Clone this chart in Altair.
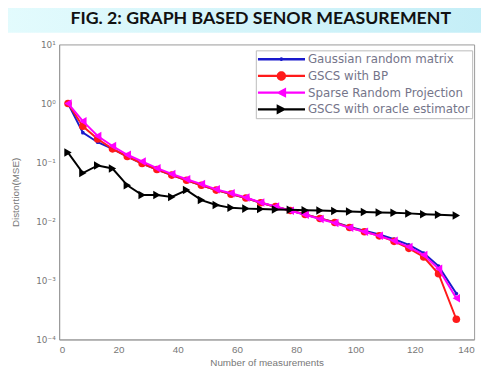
import altair as alt
import pandas as pd

# ---- data ----
series = ["Gaussian random matrix", "GSCS with BP", "Sparse Random Projection", "GSCS with oracle estimator"]
colors = ["#1a1acc", "#ff1a1a", "#ff00ff", "#000000"]
x_vals = [3, 8, 13, 18, 23, 28, 33, 38, 43, 48, 53, 58, 63, 68, 73, 78, 83, 88, 93, 98, 103, 108, 113, 118, 123, 128, 134]
gauss = [1.0, 0.32, 0.22, 0.17, 0.126, 0.096, 0.076, 0.061, 0.050, 0.041, 0.034, 0.029, 0.025, 0.0207, 0.0178,
         0.0153, 0.0131, 0.0112, 0.0097, 0.0081, 0.0070, 0.0060, 0.0050, 0.0040, 0.0029, 0.00175, 0.00060]
bp = [1.0, 0.41, 0.25, 0.17, 0.126, 0.096, 0.076, 0.061, 0.050, 0.041, 0.034, 0.029, 0.025, 0.0207, 0.0178,
      0.0153, 0.0131, 0.0112, 0.0096, 0.0079, 0.0067, 0.0057, 0.0046, 0.0035, 0.0025, 0.00130, 0.00022]
sparse = [1.0, 0.50, 0.28, 0.19, 0.135, 0.104, 0.080, 0.064, 0.052, 0.043, 0.035, 0.030, 0.0255, 0.021, 0.018,
          0.0152, 0.013, 0.0110, 0.0094, 0.0078, 0.0067, 0.0057, 0.0047, 0.0037, 0.0027, 0.00158, 0.00050]
oracle = [0.147, 0.066, 0.089, 0.079, 0.041, 0.028, 0.028, 0.026, 0.034, 0.023, 0.019, 0.017, 0.0165, 0.0162,
          0.016, 0.0158, 0.0155, 0.0153, 0.015, 0.0148, 0.0145, 0.0142, 0.014, 0.0137, 0.0133, 0.013, 0.0126]
x_ticks = [0, 20, 40, 60, 80, 100, 120, 140]
y_ticks = [1e-4, 1e-3, 1e-2, 1e-1, 1, 10]
title_text = "FIG. 2: GRAPH BASED SENOR MEASUREMENT"

values = [gauss, bp, sparse, oracle]
rows = []
for s, vals in zip(series, values):
    for xv, yv in zip(x_vals, vals):
        rows.append({"series": s, "x": xv, "y": yv})
df = pd.DataFrame(rows)

cscale = alt.Scale(domain=series, range=colors)
xenc = alt.X("x:Q", scale=alt.Scale(domain=[0, 140], nice=False),
             axis=alt.Axis(values=x_ticks, title="Number of measurements", grid=False, ticks=False,
                           labelFont="Liberation Sans", labelFontSize=10, labelColor="#777",
                           labelPadding=5, titleFont="Liberation Sans", titleFontSize=10,
                           titleColor="#777", titleFontWeight="normal", titlePadding=3,
                           domainColor="#999"))
yenc = alt.Y("y:Q", scale=alt.Scale(type="log", domain=[1e-4, 10], nice=False),
             axis=alt.Axis(values=y_ticks, title="Distortion(MSE)", grid=False, ticks=False,
                           labelExpr=("datum.value >= 9 ? '10¹' : datum.value >= 0.9 ? '10⁰' : "
                                      "datum.value >= 0.09 ? '10⁻¹' : datum.value >= 0.009 ? '10⁻²' : "
                                      "datum.value >= 0.0009 ? '10⁻³' : '10⁻⁴'"),
                           labelFont="DejaVu Sans", labelFontSize=9, labelColor="#777", labelPadding=4,
                           titleFont="Liberation Sans", titleFontSize=10, titleColor="#777",
                           titleFontWeight="normal", titleX=-44, titleY=150, titleAlign="center",
                           titleBaseline="middle", domainColor="#999"))

band = alt.Chart(pd.DataFrame({"a": [0]})).mark_rect(
    color=alt.LinearGradient(gradient="linear", x1=0, x2=1, y1=0, y2=0,
                             stops=[alt.GradientStop(color="#e3fbfd", offset=0),
                                    alt.GradientStop(color="#c4eef7", offset=1)])
).encode(x=alt.value(-60), x2=alt.value(440), y=alt.value(-42), y2=alt.value(-12))

rect = "M-1,-0.05H1V0.05H-1Z"
def circ(r):
    return f"M{-r},0A{r},{r} 0 1,1 {r},0A{r},{r} 0 1,1 {-r},0Z"
paths = [rect + circ(0.08), rect + circ(0.2),
         rect + "M-0.22,0L0.2,-0.22L0.2,0.22Z", rect + "M0.22,0L-0.2,0.22L-0.2,-0.22Z"]

leg = alt.Legend(title=None, orient="none", legendX=200, legendY=6, symbolSize=2304, clipHeight=14,
                 rowPadding=3, padding=2, labelOffset=3, labelFont="DejaVu Sans", labelFontSize=12,
                 labelLimit=300, labelColor="#75758a", fillColor="white", strokeColor="#bbb",
                 symbolOpacity=1, symbolStrokeWidth=0)

shapes = ["circle", "circle", "triangle-left", "triangle-right"]
sizes = [14, 60, 75, 75]
layers = [band]
for s, shp, sz in zip(series, shapes, sizes):
    base = alt.Chart(df).transform_filter(alt.datum.series == s)
    layers.append(base.mark_line(strokeWidth=2).encode(
        x=xenc, y=yenc, color=alt.Color("series:N", scale=cscale, legend=leg)))
    layers.append(base.mark_point(filled=True, shape=shp, size=sz, opacity=1).encode(
        x=xenc, y=yenc, color=alt.Color("series:N", scale=cscale, legend=leg)))

legend_layer = alt.Chart(pd.DataFrame({"series": series})).mark_point(
    filled=True, opacity=0).encode(
    color=alt.Color("series:N", scale=cscale, legend=leg),
    shape=alt.Shape("series:N", scale=alt.Scale(domain=series, range=paths), legend=leg))
layers.append(legend_layer)

chart = alt.layer(*layers).properties(
    width=422, height=300,
    title=alt.Title(title_text, font="Lato", fontSize=18, fontWeight="bold", color="#111",
                    anchor="middle", dx=-6, offset=0, dy=25),
    autosize=alt.AutoSizeParams(type="none"),
    padding={"left": 52, "top": 34, "right": 7, "bottom": 28},
    background="white",
).configure_view(stroke="#999", strokeWidth=1).configure_legend(
    labelColor="#75758a", labelFont="DejaVu Sans", labelFontSize=12, labelLimit=300)

chart.save("out.html", embed_options={"renderer": "svg", "actions": False})
